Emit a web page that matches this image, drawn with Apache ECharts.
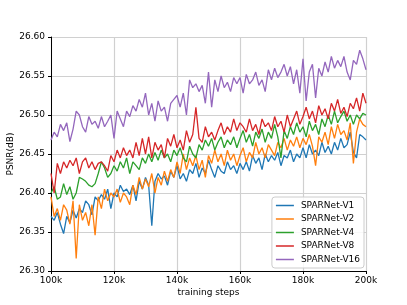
<!DOCTYPE html>
<html><head><meta charset="utf-8">
<script src="https://cdn.jsdelivr.net/npm/echarts@6/dist/echarts.min.js"></script>
<style>html,body{margin:0;padding:0;background:#fff;}#c{width:407px;height:305px;}</style>
</head><body><div id="c"></div>
<script>
const steps = [100,101,102,103,104,105,106,107,108,109,110,111,112,113,114,115,116,117,118,119,120,121,122,123,124,125,126,127,128,129,130,131,132,133,134,135,136,137,138,139,140,141,142,143,144,145,146,147,148,149,150,151,152,153,154,155,156,157,158,159,160,161,162,163,164,165,166,167,168,169,170,171,172,173,174,175,176,177,178,179,180,181,182,183,184,185,186,187,188,189,190,191,192,193,194,195,196,197,198,199,200];
const seriesNames = ['SPARNet-V1','SPARNet-V2','SPARNet-V4','SPARNet-V8','SPARNet-V16'];
const colors = ['#1f77b4','#ff7f0e','#2ca02c','#d62728','#9467bd'];
const xTicks = ['100k','120k','140k','160k','180k','200k'];
const v1 = [26.370,26.365,26.375,26.360,26.348,26.370,26.362,26.378,26.368,26.380,26.375,26.390,26.385,26.372,26.395,26.390,26.398,26.392,26.405,26.380,26.400,26.395,26.410,26.402,26.405,26.398,26.410,26.390,26.415,26.405,26.420,26.410,26.358,26.415,26.425,26.418,26.422,26.410,26.428,26.420,26.435,26.418,26.425,26.415,26.430,26.425,26.438,26.420,26.432,26.425,26.442,26.430,26.420,26.435,26.428,26.425,26.440,26.430,26.435,26.425,26.438,26.430,26.440,26.428,26.448,26.438,26.445,26.430,26.450,26.440,26.448,26.442,26.452,26.435,26.448,26.445,26.455,26.440,26.450,26.445,26.458,26.445,26.462,26.450,26.455,26.448,26.465,26.452,26.460,26.450,26.465,26.455,26.470,26.458,26.462,26.478,26.452,26.445,26.475,26.472,26.468];
const v2 = [26.395,26.370,26.380,26.365,26.385,26.378,26.360,26.390,26.316,26.385,26.365,26.375,26.358,26.385,26.346,26.395,26.380,26.405,26.390,26.400,26.395,26.405,26.388,26.400,26.395,26.385,26.410,26.398,26.420,26.405,26.418,26.408,26.425,26.400,26.420,26.410,26.428,26.415,26.430,26.420,26.440,26.425,26.450,26.430,26.445,26.435,26.448,26.430,26.442,26.420,26.448,26.438,26.455,26.440,26.450,26.435,26.455,26.442,26.450,26.435,26.448,26.458,26.440,26.452,26.445,26.465,26.450,26.458,26.445,26.462,26.455,26.448,26.465,26.458,26.470,26.455,26.468,26.460,26.472,26.458,26.470,26.462,26.475,26.460,26.435,26.472,26.465,26.478,26.462,26.485,26.470,26.488,26.475,26.480,26.468,26.490,26.438,26.478,26.495,26.488,26.485];
const v4 = [26.400,26.408,26.392,26.395,26.412,26.398,26.408,26.392,26.400,26.420,26.418,26.415,26.410,26.408,26.412,26.425,26.440,26.432,26.420,26.425,26.435,26.428,26.440,26.432,26.445,26.425,26.440,26.435,26.430,26.445,26.438,26.450,26.440,26.452,26.442,26.455,26.445,26.450,26.440,26.455,26.448,26.458,26.445,26.440,26.460,26.450,26.445,26.462,26.455,26.468,26.460,26.470,26.455,26.465,26.472,26.458,26.468,26.462,26.472,26.458,26.470,26.480,26.465,26.475,26.460,26.478,26.470,26.482,26.465,26.478,26.470,26.488,26.472,26.445,26.480,26.470,26.485,26.475,26.490,26.478,26.485,26.472,26.492,26.480,26.488,26.475,26.495,26.485,26.500,26.488,26.505,26.490,26.498,26.505,26.492,26.500,26.488,26.500,26.495,26.502,26.500];
const v8 = [26.425,26.400,26.438,26.425,26.440,26.432,26.442,26.435,26.445,26.425,26.440,26.445,26.432,26.440,26.430,26.438,26.440,26.435,26.428,26.448,26.440,26.455,26.445,26.458,26.448,26.455,26.445,26.465,26.448,26.470,26.450,26.472,26.445,26.465,26.455,26.462,26.445,26.470,26.460,26.475,26.458,26.468,26.455,26.480,26.465,26.475,26.510,26.470,26.465,26.485,26.472,26.478,26.468,26.480,26.490,26.475,26.485,26.478,26.495,26.480,26.490,26.485,26.478,26.495,26.480,26.488,26.475,26.495,26.485,26.490,26.480,26.498,26.485,26.492,26.478,26.500,26.485,26.495,26.505,26.488,26.498,26.510,26.495,26.505,26.490,26.512,26.500,26.508,26.495,26.515,26.505,26.520,26.502,26.510,26.498,26.515,26.508,26.522,26.505,26.528,26.515];
const v16 = [26.468,26.478,26.472,26.488,26.480,26.490,26.466,26.482,26.505,26.500,26.485,26.478,26.498,26.488,26.492,26.483,26.498,26.485,26.492,26.500,26.470,26.505,26.495,26.485,26.505,26.498,26.512,26.505,26.520,26.510,26.528,26.500,26.515,26.492,26.518,26.505,26.510,26.492,26.515,26.520,26.525,26.510,26.528,26.500,26.545,26.535,26.540,26.530,26.538,26.515,26.555,26.510,26.545,26.530,26.550,26.535,26.542,26.530,26.548,26.540,26.548,26.528,26.552,26.540,26.545,26.555,26.538,26.545,26.530,26.558,26.545,26.560,26.548,26.555,26.565,26.550,26.562,26.540,26.558,26.528,26.572,26.518,26.555,26.565,26.522,26.560,26.550,26.568,26.555,26.575,26.560,26.570,26.562,26.575,26.555,26.545,26.570,26.565,26.583,26.572,26.558];
const yTicks = [26.30,26.35,26.40,26.45,26.50,26.55,26.60];

const allValues = [v1, v2, v4, v8, v16];
const font = 'DejaVu Sans';
const chart = echarts.init(document.getElementById('c'), null, {renderer: 'canvas'});
chart.setOption({
  animation: false,
  backgroundColor: '#fff',
  grid: {left: 51, right: 41, top: 37, bottom: 34, containLabel: false, outerBoundsMode: 'none'},
  xAxis: {
    type: 'value', min: 100, max: 200, interval: 20,
    name: 'training steps', nameLocation: 'middle', nameGap: 17, nameMoveOverlap: false,
    nameTextStyle: {fontFamily: font, fontSize: 9, color: '#000'},
    axisLine: {show: true, onZero: false, lineStyle: {color: '#000', width: 1}},
    axisTick: {show: true, length: 3, lineStyle: {color: '#000'}},
    axisLabel: {fontFamily: font, fontSize: 9, color: '#000', margin: 5,
      formatter: function (v) { const i = Math.round((v - 100) / 20); return xTicks[i] || ''; }},
    splitLine: {show: true, lineStyle: {color: '#d0d0d0', width: 1.2}}
  },
  yAxis: {
    type: 'value', min: 26.30, max: 26.60, interval: 0.05,
    name: 'PSNR(dB)', nameLocation: 'middle', nameGap: 36, nameMoveOverlap: false,
    nameTextStyle: {fontFamily: font, fontSize: 9, color: '#000'},
    axisLine: {show: true, lineStyle: {color: '#000', width: 1}},
    axisTick: {show: true, length: 3, lineStyle: {color: '#000'}},
    axisLabel: {fontFamily: font, fontSize: 9, color: '#000', margin: 6,
      formatter: function (v) { return v.toFixed(2); }},
    splitLine: {show: true, lineStyle: {color: '#d0d0d0', width: 1.2}}
  },
  legend: {
    orient: 'vertical', right: 43, bottom: 37,
    icon: 'rect', itemWidth: 18, itemHeight: 1.5, itemGap: 4.5,
    backgroundColor: 'rgba(255,255,255,0.85)',
    borderColor: '#cccccc', borderWidth: 1, borderRadius: 3,
    padding: [4, 4, 4, 4],
    textStyle: {fontFamily: font, fontSize: 9, color: '#000', padding: [0,0,0,2]},
    data: seriesNames
  },
  series: seriesNames.map(function (n, k) {
    return {
      name: n, type: 'line', showSymbol: false, symbol: 'none',
      lineStyle: {color: colors[k], width: 1.3}, itemStyle: {color: colors[k]},
      data: steps.map(function (s, i) { return [s, allValues[k][i]]; })
    };
  })
});
</script></body></html>
